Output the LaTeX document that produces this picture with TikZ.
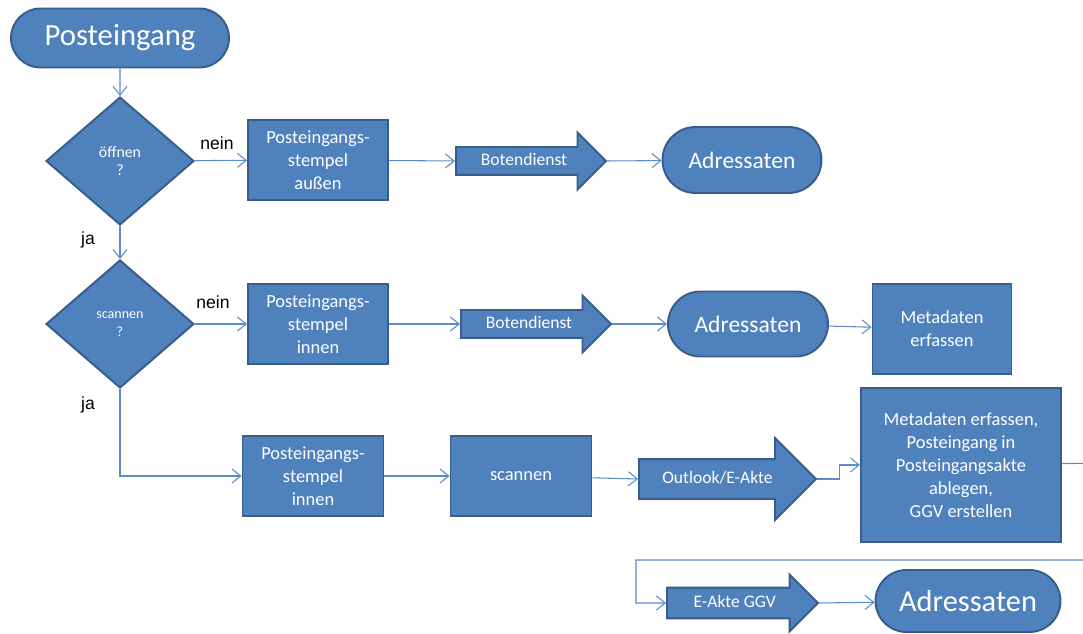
\documentclass[tikz,border=0pt]{standalone}
\usepackage{fontspec}
\setmainfont{Carlito}
\newfontfamily\labelfont{Liberation Sans}
\usepackage{tikz}
\usetikzlibrary{arrows.meta, shapes.geometric, shapes.arrows, shapes.misc}

\definecolor{boxblue}{HTML}{4F81BD}
\definecolor{boxedge}{HTML}{385D8A}
\definecolor{lineblue}{HTML}{5B8BC9}

\begin{document}
\begin{tikzpicture}[x=0.02cm, y=-0.02cm, font=\fontsize{10.5}{13}\selectfont]
	\tikzstyle{base} = [draw=boxedge, line width=1.1pt, fill=boxblue, text=white, align=center, inner sep=0pt]
	\tikzstyle{box} = [base, rectangle, minimum width=2.8cm, minimum height=1.6cm]
	\tikzstyle{term} = [base, rounded rectangle]
	\tikzstyle{decision} = [base, diamond, minimum width=2.96cm, minimum height=2.56cm]
	\tikzstyle{flow} = [base, single arrow, single arrow head extend=0.29cm, minimum height=3cm, text height=7pt, text depth=2pt, inner ysep=2.9pt, font=\fontsize{10}{12}\selectfont, anchor=tail]
	\tikzstyle{lbl} = [font=\labelfont\fontsize{10}{12}\selectfont]
	\tikzstyle{arrow} = [draw=lineblue, line width=0.6pt, -{Straight Barb[length=5pt, width=8pt]}]

	\useasboundingbox (0, 0) rectangle (1083, 634);

	\node[term, minimum width=4.36cm, minimum height=1.18cm, font=\fontsize{17.5}{20}\selectfont] at (120, 38) (pe) {Posteingang};

	\node[decision, font=\fontsize{9}{10}\selectfont] at (120, 161) (d1) {öffnen\\?};
	\node[box] at (318, 160) (st1) {Posteingangs-\\stempel\\außen};
	\node[flow] at (455, 161) (bd1) {Botendienst};
	\node[term, minimum width=3.18cm, minimum height=1.32cm, font=\fontsize{13.4}{16}\selectfont] at (742, 160) (ad1) {Adressaten};

	\node[decision, font=\fontsize{8}{10}\selectfont] at (120, 324) (d2) {scannen\\?};
	\node[box] at (318, 324) (st2) {Posteingangs-\\stempel\\innen};
	\node[flow] at (460, 324) (bd2) {Botendienst};
	\node[term, minimum width=3.2cm, minimum height=1.3cm, font=\fontsize{13.4}{16}\selectfont] at (748, 324) (ad2) {Adressaten};
	\node[box, minimum width=2.78cm, minimum height=1.8cm] at (942, 329) (md1) {Metadaten\\erfassen};

	\node[box, minimum width=2.82cm] at (313, 476) (st3) {Posteingangs-\\stempel\\innen};
	\node[box, minimum width=2.82cm] at (521, 476) (sc) {scannen};
	\node[flow, minimum height=3.54cm, single arrow head extend=0.42cm, inner ysep=6.3pt] at (638, 479) (ol) {Outlook/E-Akte};
	\node[box, minimum width=4cm, minimum height=3.08cm] at (961, 465) (md2) {Metadaten erfassen,\\Posteingang in\\Posteingangsakte\\ablegen,\\GGV erstellen};

	\node[flow, minimum height=3.02cm, single arrow head extend=0.26cm, inner ysep=3.7pt] at (666, 603) (ea) {E-Akte GGV};
	\node[term, minimum width=3.7cm, minimum height=1.24cm, font=\fontsize{17.3}{20}\selectfont] at (968, 601) (ad3) {Adressaten};

	\node[lbl] at (217, 143) (nein1) {nein};
	\node[lbl] at (213, 302) (nein2) {nein};
	\node[lbl] at (88, 240) (ja1) {ja};
	\node[lbl] at (88, 405) (ja2) {ja};

	\coordinate (rt) at (1110, 463);
	\coordinate (lt) at (636, 560);

	\draw[arrow] (pe) -- (d1);
	\draw[arrow] (d1) -- (st1);
	\draw[arrow] (st1) -- (bd1.tail);
	\draw[arrow] (bd1.tip) -- (ad1);

	\draw[arrow] (d1) -- (d2);
	\draw[arrow] (d2) -- (st2);
	\draw[arrow] (st2) -- (bd2.tail);
	\draw[arrow] (bd2.tip) -- (ad2);
	\draw[arrow] (ad2) -- (md1);

	\draw[arrow] (d2) |- (st3);
	\draw[arrow] (st3) -- (sc);
	\draw[arrow] (sc) -- (ol.tail);
	\draw[arrow] (ol.tip) -- ++(22, 0) |- (md2);
	\draw[arrow] (md2) -- (rt) |- (lt) |- (ea.tail);
	\draw[arrow] (ea.tip) -- (ad3);
\end{tikzpicture}
\end{document}
